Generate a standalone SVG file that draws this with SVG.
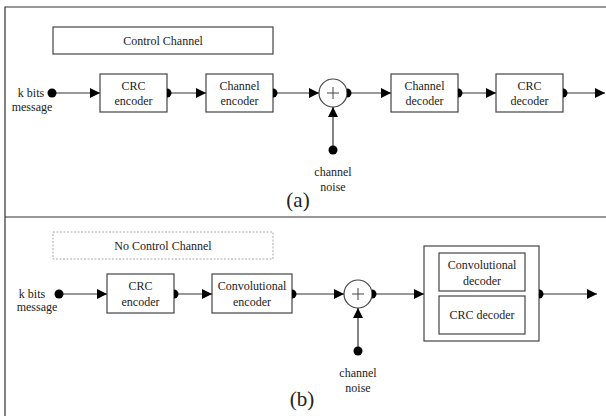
<svg xmlns="http://www.w3.org/2000/svg" width="606" height="416" viewBox="0 0 606 416" font-family="'Liberation Serif', 'Times New Roman', serif">
<style>
text{font-family:'Liberation Serif','Times New Roman',serif;font-size:12px;fill:#222;text-anchor:middle}
.lbl{font-size:21px}
.box{fill:#fff;stroke:#444;stroke-width:1.2}
.dash{fill:#fff;stroke:#aaa;stroke-width:1;stroke-dasharray:2 1.5}
.frame{stroke:#333;stroke-width:1.2;fill:none}
.conn{stroke:#333;stroke-width:1.2;fill:none;marker-end:url(#arr)}
.fromdot{marker-start:url(#dot)}
.fromhalf{marker-start:url(#half)}
.plus{stroke:#444;stroke-width:1;fill:none}
</style>
<defs>
<marker id="arr" markerUnits="userSpaceOnUse" markerWidth="11" markerHeight="11" refX="10" refY="5" orient="auto"><path d="M0,0 L10,5 L0,10 z" fill="#000"/></marker>
<marker id="dot" markerUnits="userSpaceOnUse" markerWidth="10" markerHeight="10" refX="5" refY="5" orient="auto"><circle cx="5" cy="5" r="4.5" fill="#000"/></marker>
<marker id="half" markerUnits="userSpaceOnUse" markerWidth="10" markerHeight="10" refX="1" refY="5" orient="auto"><path d="M1,0.5 A4.5,4.5 0 0 1 1,9.5 z" fill="#000"/></marker>
</defs>
<g id="frame">
<path class="frame" d="M5,416 V7 H606"/>
<path class="frame" d="M5,217 H606"/>
</g>
<g id="panel-a">
<g id="a-control"><rect class="box" x="53" y="27" width="220" height="27"/><text x="163" y="45">Control Channel</text></g>
<g id="a-input"><text x="31" y="97">k bits</text><text x="32" y="111">message</text></g>
<g id="a-crc-enc"><rect class="box" x="100" y="74" width="67" height="38"/><text x="133.5" y="90">CRC</text><text x="133.5" y="105">encoder</text></g>
<g id="a-ch-enc"><rect class="box" x="206" y="74" width="67" height="38"/><text x="239.5" y="90">Channel</text><text x="239.5" y="105">encoder</text></g>
<g id="a-adder"><circle class="box" cx="333" cy="93" r="14"/><path class="plus" d="M327,93 H339 M333,87 V99"/></g>
<g id="a-ch-dec"><rect class="box" x="391" y="74" width="67" height="38"/><text x="424.5" y="90">Channel</text><text x="424.5" y="105">decoder</text></g>
<g id="a-crc-dec"><rect class="box" x="496" y="74" width="67" height="38"/><text x="529.5" y="90">CRC</text><text x="529.5" y="105">decoder</text></g>
<g id="a-noise"><text x="333" y="176">channel</text><text x="333" y="191">noise</text></g>
<text class="lbl" x="298" y="207">(a)</text>
</g>
<g id="panel-b">
<g id="b-control"><rect class="dash" x="53" y="232" width="220" height="27"/><text x="163" y="250">No Control Channel</text></g>
<g id="b-input"><text x="32" y="298">k bits</text><text x="37" y="311">message</text></g>
<g id="b-crc-enc"><rect class="box" x="107" y="274" width="67" height="39"/><text x="140.5" y="290">CRC</text><text x="140.5" y="306">encoder</text></g>
<g id="b-conv-enc"><rect class="box" x="212" y="274" width="80" height="39"/><text x="252" y="290">Convolutional</text><text x="252" y="306">encoder</text></g>
<g id="b-adder"><circle class="box" cx="358" cy="294" r="14"/><path class="plus" d="M352,294 H364 M358,288 V300"/></g>
<g id="b-decoder"><rect class="box" x="424" y="246" width="115" height="95"/>
<g id="b-conv-dec"><rect class="box" x="439" y="253" width="86" height="38"/><text x="482" y="269">Convolutional</text><text x="482" y="285">decoder</text></g>
<g id="b-crc-dec"><rect class="box" x="439" y="296" width="86" height="38"/><text x="482" y="319">CRC decoder</text></g>
</g>
<g id="b-noise"><text x="358" y="377">channel</text><text x="358" y="392">noise</text></g>
<text class="lbl" x="302" y="406">(b)</text>
</g>
<g id="connectors">
<path class="conn fromdot" d="M52,93 H100"/>
<path class="conn fromhalf" d="M167,93 H206"/>
<path class="conn fromhalf" d="M273,93 H319"/>
<path class="conn fromhalf" d="M347,93 H391"/>
<path class="conn fromhalf" d="M458,93 H496"/>
<path class="conn fromhalf" d="M563,93 H605"/>
<path class="conn fromdot" d="M333,150 V107"/>
<path class="conn fromdot" d="M59,294 H107"/>
<path class="conn fromhalf" d="M174,294 H212"/>
<path class="conn fromhalf" d="M292,294 H344"/>
<path class="conn fromhalf" d="M372,294 H424"/>
<path class="conn fromhalf" d="M539,294 H597"/>
<path class="conn fromdot" d="M358,351 V308"/>
</g>
</svg>
